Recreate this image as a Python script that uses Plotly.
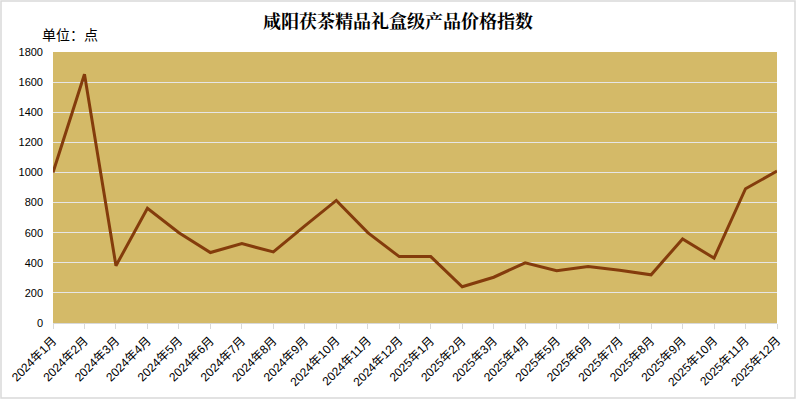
import plotly.graph_objects as go

months = ["2024年1月", "2024年2月", "2024年3月", "2024年4月", "2024年5月", "2024年6月",
          "2024年7月", "2024年8月", "2024年9月", "2024年10月", "2024年11月", "2024年12月",
          "2025年1月", "2025年2月", "2025年3月", "2025年4月", "2025年5月", "2025年6月",
          "2025年7月", "2025年8月", "2025年9月", "2025年10月", "2025年11月", "2025年12月"]
index_values = [1000, 1652, 380, 762, 600, 468, 527, 472, 645, 814, 600, 441,
                441, 241, 304, 400, 347, 375, 351, 320, 558, 431, 892, 1009]
y_ticks = [0, 200, 400, 600, 800, 1000, 1200, 1400, 1600, 1800]

fig = go.Figure()
fig.add_trace(go.Scatter(
    x=list(range(len(months))), y=index_values, mode="lines",
    line=dict(color="#843c0c", width=3), hoverinfo="skip"))

fig.update_layout(
    width=796, height=399,
    margin=dict(l=53, r=19, t=52, b=76),
    paper_bgcolor="white", plot_bgcolor="#d4ba68",
    showlegend=False,
    title=dict(text="<b>咸阳茯茶精品礼盒级产品价格指数</b>", x=0.5, xanchor="center",
               y=1 - 22 / 399, yanchor="middle",
               font=dict(family="Noto Serif CJK SC, Noto Sans CJK SC, serif", size=18, color="#000000")),
    xaxis=dict(
        range=[0, len(months) - 1], tickmode="array",
        tickvals=list(range(len(months))), ticktext=months,
        tickangle=-45, showgrid=False, zeroline=False, automargin=False,
        showline=True, linecolor="#d9d9d9", linewidth=1,
        ticks="outside", ticklen=5, tickcolor="#d9d9d9",
        tickfont=dict(family="Liberation Sans, Noto Sans CJK SC, sans-serif", size=12, color="#000000"),
    ),
    yaxis=dict(
        range=[0, 1800], tickmode="array", tickvals=y_ticks, automargin=False,
        showgrid=True, gridcolor="#e6e6e6", gridwidth=1.3,
        zeroline=False, showline=False, ticks="", ticklabelstandoff=9,
        tickfont=dict(family="Liberation Sans, sans-serif", size=11, color="#000000"),
    ),
    annotations=[dict(text="单位：点", xref="paper", yref="paper",
                      x=-53 / 724 + 40 / 724, y=1 + (52 - 34) / 271,
                      xanchor="left", yanchor="middle", showarrow=False,
                      font=dict(family="Noto Sans CJK SC, sans-serif", size=14, color="#000000"))],
    shapes=[dict(type="rect", xref="paper", yref="paper",
                 x0=-53 / 724 + 1 / 724, x1=1 + 18 / 724,
                 y0=-76 / 271 + 1 / 271, y1=1 + 51 / 271,
                 line=dict(color="#d9d9d9", width=1.5), fillcolor="rgba(0,0,0,0)", layer="below")],
)

fig.write_html("out.html", config={"displayModeBar": False},
               post_script="document.body.style.margin='0';document.body.style.overflow='hidden';")
